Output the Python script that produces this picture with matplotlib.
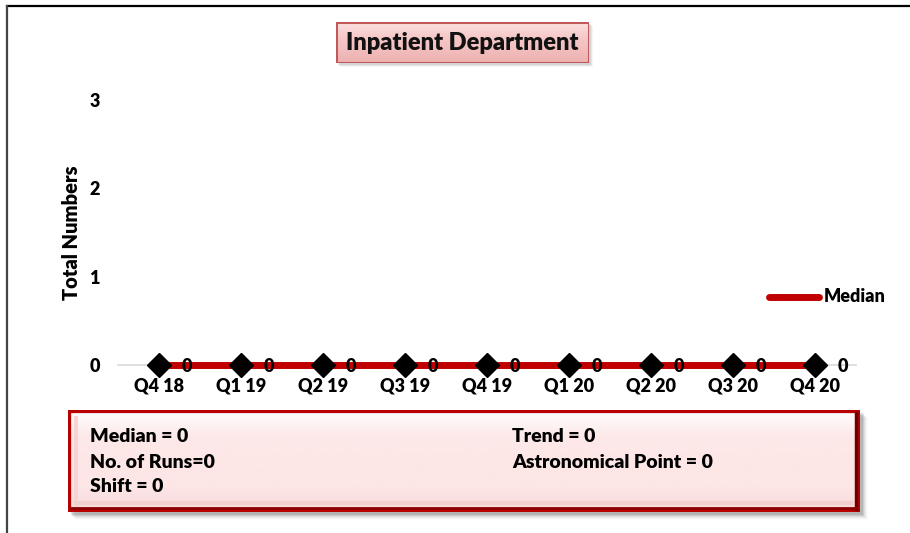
import matplotlib
matplotlib.use("Agg")
import matplotlib.pyplot as plt
from matplotlib.patches import Rectangle
from matplotlib.lines import Line2D
from matplotlib.colors import LinearSegmentedColormap
import numpy as np

plt.rcParams['font.family'] = ['Lato', 'DejaVu Sans']
WT = "heavy"
plt.rcParams['font.weight'] = WT

quarters = ["Q4 18", "Q1 19", "Q2 19", "Q3 19", "Q4 19", "Q1 20", "Q2 20", "Q3 20", "Q4 20"]
totals = [0, 0, 0, 0, 0, 0, 0, 0, 0]
median_line = [0, 0, 0, 0, 0, 0, 0, 0, 0]
y_ticks = [0, 1, 2, 3]

stats_left = ["Median = 0", "No. of Runs=0", "Shift = 0"]
stats_right = ["Trend = 0", "Astronomical Point = 0"]

W, H = 910, 533
fig = plt.figure(figsize=(W / 100, H / 100), dpi=100)
fig.patch.set_facecolor("white")


def fx(px):
    return px / W


def fy(py):
    return 1 - py / H


def gradient_box(x0, y0, x1, y1, colors):
    a = fig.add_axes([fx(x0), fy(y1), fx(x1 - x0), fy(y0) - fy(y1)])
    a.axis("off")
    a.set_zorder(2)
    g = np.linspace(0, 1, 128).reshape(-1, 1)
    cmap = LinearSegmentedColormap.from_list("g", colors)
    a.imshow(g, aspect="auto", cmap=cmap, extent=[0, 1, 0, 1], origin="upper")
    a.set_xlim(0, 1)
    a.set_ylim(0, 1)
    return a


def soft_shadow(x0, y0, x1, y1, offset, alphas):
    for k, a in enumerate(alphas):
        fig.add_artist(Rectangle((fx(x0 + offset + k), fy(y1 + offset + k)), fx(x1 - x0), fy(y0) - fy(y1),
                                 facecolor="#444444", edgecolor="none", alpha=a, zorder=-1))


# outer frame: top and left edges only
fig.add_artist(Line2D([fx(7), fx(910)], [fy(6), fy(6)], color="black", lw=1.6))
fig.add_artist(Line2D([fx(7), fx(7)], [fy(6), fy(533)], color="#444444", lw=1.6))

ax = fig.add_axes([fx(118), fy(365), fx(856) - fx(118), fy(100) - fy(365)])
ax.set_facecolor("none")
x = np.arange(len(quarters))
ax.set_xlim(-0.5, len(quarters) - 0.5)
ax.set_ylim(0, 3)
for s in ["top", "right", "left"]:
    ax.spines[s].set_visible(False)
ax.spines["bottom"].set_color("#d9d9d9")
ax.spines["bottom"].set_linewidth(1.2)
ax.set_yticks(y_ticks)
ax.set_yticklabels([str(v) for v in y_ticks], fontsize=13, fontweight=WT)
ax.tick_params(axis="y", length=0, pad=13)
ax.set_xticks(x)
ax.set_xticklabels(quarters, fontsize=13, fontweight=WT)
ax.tick_params(axis="x", length=0, pad=9)
ax.set_ylabel("Total Numbers", fontsize=14.5, fontweight=WT, labelpad=6)

ax.plot(x, median_line, color="#C00000", lw=5, solid_capstyle="butt", zorder=3, clip_on=False)
ax.plot(x, totals, linestyle="none", marker="D", markersize=12, color="black", zorder=4, clip_on=False)
for xi, v in zip(x, totals):
    ax.annotate(str(v), (xi, v), xytext=(28, -2), textcoords="offset pixels",
                ha="center", va="center", fontsize=13, fontweight=WT, annotation_clip=False)

# legend
fig.add_artist(Line2D([fx(769), fx(819)], [fy(297), fy(297)], color="#C00000", lw=5,
                      solid_capstyle="round"))
fig.text(fx(824), fy(297), "Median", ha="left", va="center", fontsize=13, fontweight=WT)

# title box with soft shadow and gradient
tx0, tx1, ty0, ty1 = 336, 589, 22, 63
soft_shadow(tx0, ty0, tx1, ty1, 2, [0.12, 0.08, 0.05])
ax_t = gradient_box(tx0, ty0, tx1, ty1, ["#FBE2E2", "#F6CACA", "#F2BEBE", "#EDB0B0"])
ax_t.add_patch(Rectangle((0, 0), 1, 1, transform=ax_t.transAxes, fill=False,
                         edgecolor="#C05A5A", lw=2.2))
ax_t.text(0.5, 0.5, "Inpatient Department", ha="center", va="center", transform=ax_t.transAxes,
          fontsize=17, fontweight=WT, color="#111111")

# statistics box with bevel and drop shadow
bx0, bx1, by0, by1 = 68, 860, 410, 512
soft_shadow(bx0, by0, bx1, by1, 3, [0.16, 0.11, 0.08, 0.05, 0.03, 0.02])
ax_b = gradient_box(bx0, by0, bx1, by1, ["#FFFFFF", "#FDE9E9", "#FDE6E6", "#FDE6E6", "#F8DADA"])
ax_b.add_patch(Rectangle((0, 0), 1, 1, transform=ax_b.transAxes, fill=False,
                         edgecolor="#B80000", lw=4.5))


def bevel_line(xs, ys, color, lw):
    ax_b.add_artist(Line2D([(v - bx0) / (bx1 - bx0) for v in xs],
                           [(by1 - v) / (by1 - by0) for v in ys],
                           transform=ax_b.transAxes, color=color, lw=lw))


bevel_line([bx1 - 4, bx1 - 4], [by0 + 3, by1 - 3], "#6E0000", 2.5)
bevel_line([bx0 + 3, bx1 - 3], [by1 - 4, by1 - 4], "#8A0000", 2)
bevel_line([bx0 + 8, bx0 + 8], [by0 + 8, by1 - 8], "#F6D4D4", 3)
bevel_line([bx0 + 8, bx1 - 9], [by1 - 9, by1 - 9], "#F1CFCF", 3)

for i, s in enumerate(stats_left):
    ax_b.text((90 - bx0) / (bx1 - bx0), (by1 - (437 + 25 * i)) / (by1 - by0), s,
              transform=ax_b.transAxes, ha="left", va="center", fontsize=14, fontweight=WT)
for i, s in enumerate(stats_right):
    ax_b.text((512 - bx0) / (bx1 - bx0), (by1 - (437 + 25 * i)) / (by1 - by0), s,
              transform=ax_b.transAxes, ha="left", va="center", fontsize=14, fontweight=WT)

fig.savefig("out.png", dpi=100)
